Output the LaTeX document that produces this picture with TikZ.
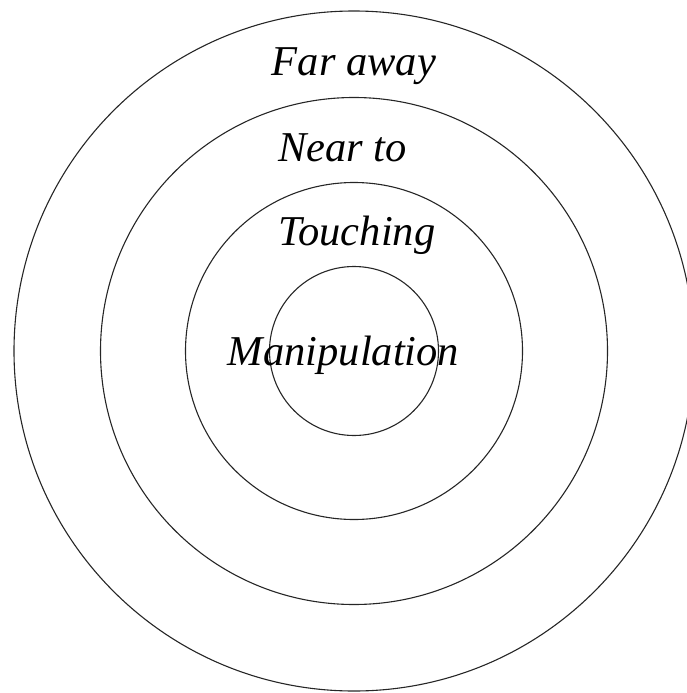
\documentclass[tikz,border=0pt]{standalone}
\usepackage{fontspec}
\setmainfont{Liberation Serif}
\begin{document}
\begin{tikzpicture}[x=1pt,y=-1pt,
  ring/.style={draw=black!85,line width=1.1pt},
  lbl/.style={anchor=base,inner sep=0pt,font=\fontsize{42.5}{50}\selectfont\itshape}]
\useasboundingbox (0,0) rectangle (687,693);
\clip (0,0) rectangle (687,693);
\coordinate (c) at (354,351);
\draw[ring] (c) circle[radius=340];
\draw[ring] (c) circle[radius=253.5];
\draw[ring] (c) circle[radius=168.5];
\draw[ring] (c) circle[radius=84.5];
\node[lbl] (far) at (354,75) {Far away};
\node[lbl] (near) at (342.5,161) {Near to};
\node[lbl] (touch) at (357,245) {Touching};
\node[lbl] (manip) at (343.5,365) {Manipulation};
\end{tikzpicture}
\end{document}
